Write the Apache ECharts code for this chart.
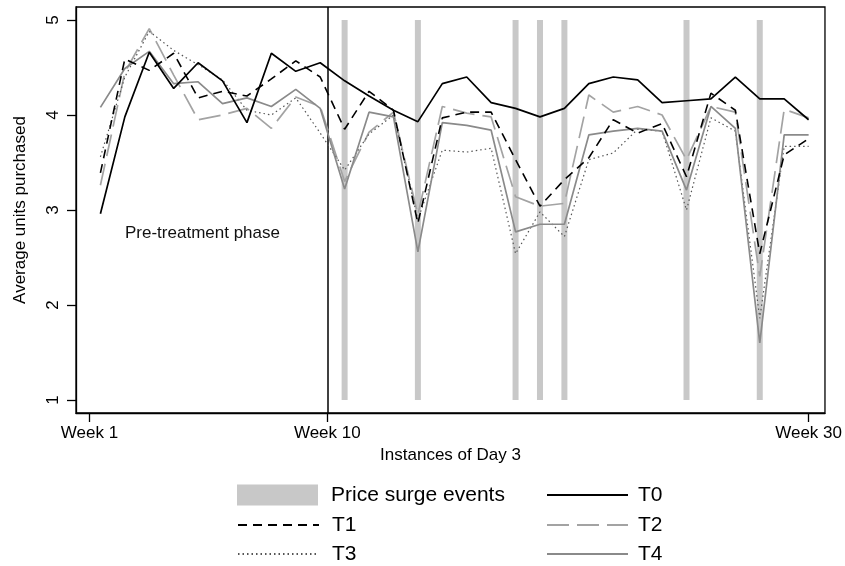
<!DOCTYPE html>
<html>
<head>
<meta charset="utf-8">
<script src="https://cdn.jsdelivr.net/npm/echarts@6/dist/echarts.min.js"></script>
<style>html,body{margin:0;padding:0;background:#fff}#c{width:845px;height:566px}</style>
</head>
<body>
<div id="c"></div>
<script>
// ---- data ----
var weekIndex = [1,2,3,4,5,6,7,8,9,10,11,12,13,14,15,16,17,18,19,20,21,22,23,24,25,26,27,28,29,30];
var T0 = [2.96,3.98,4.66,4.28,4.55,4.36,3.92,4.65,4.46,4.55,4.36,4.20,4.05,3.93,4.33,4.40,4.13,4.07,3.98,4.07,4.33,4.40,4.37,4.13,4.15,4.17,4.40,4.17,4.17,3.95];
var T1 = [3.39,4.59,4.47,4.65,4.18,4.25,4.20,4.38,4.57,4.40,3.85,4.25,4.05,2.86,3.97,4.03,4.03,3.53,3.04,3.32,3.55,3.95,3.81,3.91,3.35,4.23,4.05,2.54,3.58,3.75];
var T2 = [3.26,4.45,4.91,4.42,3.95,4.00,4.07,3.86,4.19,4.09,3.30,3.82,4.03,2.95,4.09,4.02,3.98,3.14,3.04,3.07,4.21,4.03,4.09,4.00,3.53,4.09,4.03,2.30,4.06,3.97];
var T3 = [3.56,4.40,4.88,4.68,4.53,4.37,4.05,4.00,4.18,3.81,3.42,3.80,4.00,2.90,3.63,3.61,3.65,2.54,2.98,2.72,3.53,3.60,3.85,3.83,3.00,3.97,3.83,1.86,3.67,3.67];
var T4 = [4.08,4.49,4.67,4.33,4.35,4.12,4.18,4.09,4.27,4.07,3.22,4.03,3.98,2.56,3.92,3.89,3.84,2.77,2.85,2.85,3.79,3.83,3.86,3.83,3.21,4.09,3.86,1.60,3.79,3.79];
var surgeWeeks = [11,14,18,19,20,25,28];
var surgeLow = 1, surgeHigh = 5;
var xTickValues = [0.55, 10.29, 30];
var xTickLabels = ['Week 1', 'Week 10', 'Week 30'];
var yTickValues = [1,2,3,4,5];
var treatmentStart = 10.29;

var FONT = '"Liberation Sans", Arial, sans-serif';
function pairs(arr){ return weekIndex.map(function(w,i){ return [w, arr[i]]; }); }

var chart = echarts.init(document.getElementById('c'), null, {renderer:'canvas'});

function lineSeries(name, data, color, width, type, z){
  return {
    name: name, type: 'line', data: pairs(data), symbol: 'none', showSymbol: false,
    lineStyle: {color: color, width: width, type: type}, itemStyle: {color: color},
    z: z, silent: true, animation: false
  };
}

function mkLegend(name, left, rowCenter, pad, isRect){
  var l = {
    selectedMode: false, padding: 0, itemWidth: 81, itemHeight: 21,
    data: isRect ? [{name: name, icon: 'rect'}] : [name],
    left: left, top: rowCenter - 10.5,
    textStyle: {fontFamily: FONT, fontSize: 21, color: '#000', padding: [0,0,0,pad]}
  };
  if (!isRect) l.itemStyle = {opacity: 0};
  return l;
}

var option = {
  animation: false,
  backgroundColor: '#fff',
  grid: {left: 76, top: 7, right: 18, bottom: 153, show: true, borderColor: '#000', borderWidth: 1.3, containLabel: false},
  xAxis: {
    type: 'value', min: 0, max: 30.67,
    name: 'Instances of Day 3', nameLocation: 'middle', nameGap: 31,
    nameTextStyle: {fontFamily: FONT, fontSize: 17, color: '#000'},
    axisLine: {show: true, lineStyle: {color: '#000', width: 1.3}},
    axisTick: {show: true, length: 9, customValues: xTickValues, lineStyle: {color: '#000', width: 1.3}},
    axisLabel: {
      customValues: xTickValues, margin: 12, fontFamily: FONT, fontSize: 17, color: '#000',
      formatter: function(v){
        var best = 0;
        for (var i = 1; i < xTickValues.length; i++) if (Math.abs(xTickValues[i]-v) < Math.abs(xTickValues[best]-v)) best = i;
        return xTickLabels[best];
      }
    },
    splitLine: {show: false}
  },
  yAxis: {
    type: 'value', min: 0.863, max: 5.137,
    name: 'Average units purchased', nameLocation: 'middle', nameGap: 47, nameRotate: 90,
    nameTextStyle: {fontFamily: FONT, fontSize: 17, color: '#000'},
    axisLine: {show: true, lineStyle: {color: '#000', width: 1.3}},
    axisTick: {show: true, length: 9, customValues: yTickValues, lineStyle: {color: '#000', width: 1.3}},
    axisLabel: {customValues: yTickValues, rotate: 90, margin: 14, fontFamily: FONT, fontSize: 17, color: '#000'},
    splitLine: {show: false}
  },
  legend: [
    mkLegend('Price surge events', 237, 495, 8, true),
    mkLegend('T0', 546, 495, 5),
    mkLegend('T1', 237, 525, 8),
    mkLegend('T2', 546, 525, 5),
    mkLegend('T3', 237, 554, 8),
    mkLegend('T4', 546, 554, 5)
  ],
  graphic: [{
    type: 'text', left: 125, top: 225, silent: true,
    style: {text: 'Pre-treatment phase', fontFamily: FONT, fontSize: 17, fill: '#111'}
  }],
  series: [
    {
      name: 'Price surge events', type: 'custom', z: 1, silent: true,
      itemStyle: {color: '#c8c8c8'},
      data: surgeWeeks.map(function(w){ return [w, surgeLow, surgeHigh]; }),
      encode: {x: 0, y: [1, 2]},
      renderItem: function(params, api){
        var x = api.value(0);
        var top = api.coord([x, api.value(2)]);
        var bot = api.coord([x, api.value(1)]);
        var w = 6;
        return {type: 'rect', shape: {x: top[0] - w/2, y: top[1], width: w, height: bot[1] - top[1]},
                style: {fill: '#c8c8c8'}};
      }
    },
    Object.assign(lineSeries('T0', T0, '#000000', 1.7, 'solid', 10), {
      markLine: {silent: true, symbol: 'none', label: {show: false},
        lineStyle: {color: '#000', width: 1.5, type: 'solid'},
        data: [{xAxis: treatmentStart}]}
    }),
    lineSeries('T1', T1, '#000000', 1.6, [9, 6], 9),
    lineSeries('T2', T2, '#a3a3a3', 1.7, [22, 8], 6),
    lineSeries('T3', T3, '#555555', 1.2, [1.5, 3], 7),
    lineSeries('T4', T4, '#8a8a8a', 1.7, 'solid', 8)
  ]
};
chart.setOption(option);
</script>
</body>
</html>
